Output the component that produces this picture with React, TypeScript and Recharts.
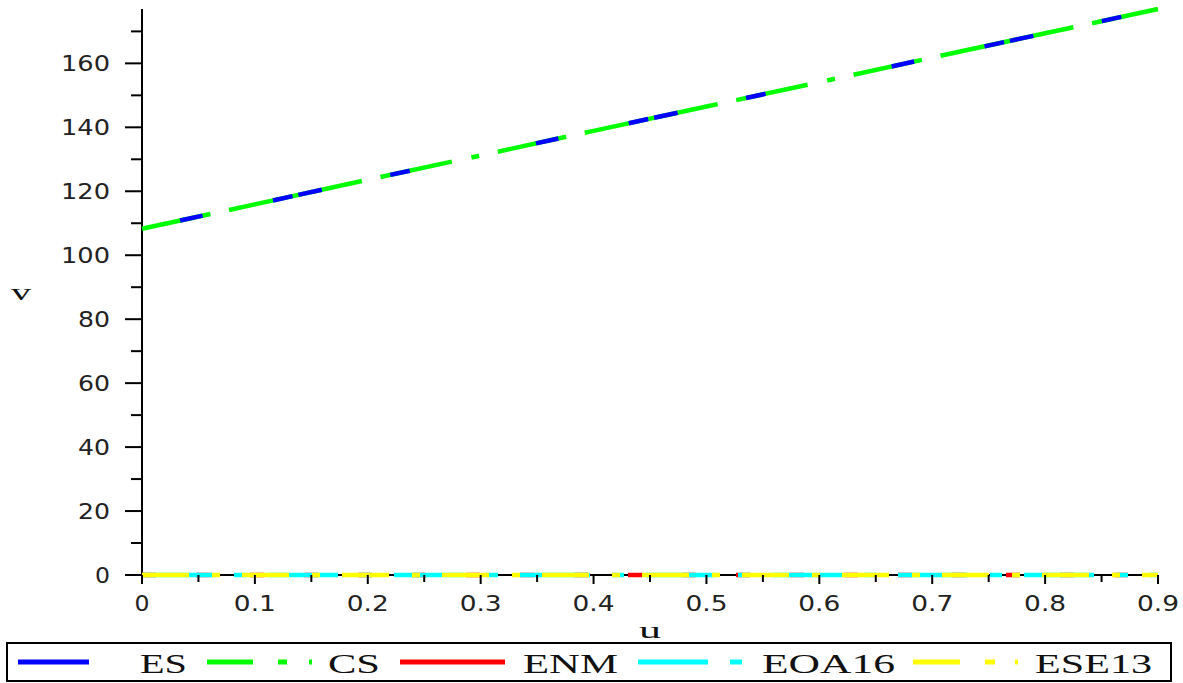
import React from 'react';
import { LineChart, Line, XAxis, YAxis, Legend, Label } from 'recharts';

const U = [0, 0.1, 0.2, 0.3, 0.4, 0.5, 0.6, 0.7, 0.8, 0.9];
const ES = [108.3, 115.9, 123.6, 131.2, 138.9, 146.5, 154.1, 161.8, 169.4, 177.0];
const CS = [108.3, 115.9, 123.6, 131.2, 138.9, 146.5, 154.1, 161.8, 169.4, 177.0];
const ENM = [0, 0, 0, 0, 0, 0, 0, 0, 0, 0];
const EOA16 = [0, 0, 0, 0, 0, 0, 0, 0, 0, 0];
const ESE13 = [0, 0, 0, 0, 0, 0, 0, 0, 0, 0];

const X_TICKS = [0, 0.05, 0.1, 0.15, 0.2, 0.25, 0.3, 0.35, 0.4, 0.45, 0.5, 0.55, 0.6, 0.65, 0.7, 0.75, 0.8, 0.85, 0.9];
const Y_TICKS = [0, 10, 20, 30, 40, 50, 60, 70, 80, 90, 100, 110, 120, 130, 140, 150, 160, 170];
const SERIES_NAMES = ['ES', 'CS', 'ENM', 'EOA16', 'ESE13'];

const data = U.map((u, i) => ({
  u,
  ES: ES[i],
  CS: CS[i],
  ENM: ENM[i],
  EOA16: EOA16[i],
  ESE13: ESE13[i],
}));

const labelLen = (s: string) => {
  let n = 0;
  for (const c of s) n += c === '.' ? 10 : 17;
  return n - 2;
};

const YTick = (props: any) => {
  const { x, y, payload } = props;
  const v = payload.value;
  const major = Math.round(v) % 20 === 0;
  const len = major ? 17 : 11;
  const s = String(v);
  return (
    <g>
      <line x1={x} x2={x - len} y1={y} y2={y} stroke="#000" strokeWidth={2} />
      {major && (
        <text
          x={x - 32}
          y={y + 7.8}
          textAnchor="end"
          fontFamily="DejaVu Sans"
          fontSize={21}
          fill="#222"
          textLength={labelLen(s)}
          lengthAdjust="spacingAndGlyphs"
        >
          {s}
        </text>
      )}
    </g>
  );
};

const XTick = (props: any) => {
  const { x, y, payload } = props;
  const v = payload.value;
  const major = Math.round(v * 100) % 10 === 0;
  const len = major ? 9 : 7;
  const s = String(Number(v.toFixed(2)));
  return (
    <g>
      <line x1={x} x2={x} y1={y} y2={y + len} stroke="#000" strokeWidth={2} />
      {major && (
        <text
          x={x}
          y={y + 36}
          textAnchor="middle"
          fontFamily="DejaVu Sans"
          fontSize={21}
          fill="#222"
          textLength={labelLen(s)}
          lengthAdjust="spacingAndGlyphs"
        >
          {s}
        </text>
      )}
    </g>
  );
};

const YLabel = (props: any) => {
  const vb = props.viewBox || { x: 0, y: 0, width: 0, height: 0 };
  return (
    <text
      x={vb.x + 21}
      y={vb.y + vb.height / 2 + 8}
      textAnchor="middle"
      fontFamily="Liberation Serif"
      fontSize={24}
      fill="#111"
      textLength={20}
      lengthAdjust="spacingAndGlyphs"
    >
      v
    </text>
  );
};

const XLabel = (props: any) => {
  const vb = props.viewBox || { x: 0, y: 0, width: 0, height: 0 };
  return (
    <text
      x={vb.x + vb.width / 2}
      y={vb.y + 63}
      textAnchor="middle"
      fontFamily="Liberation Serif"
      fontSize={24}
      fill="#111"
      textLength={22}
      lengthAdjust="spacingAndGlyphs"
    >
      u
    </text>
  );
};

const LegendBox = () => {
  const ty = 31;
  const ly = 20;
  const sw = 5;
  const txt = (x: number, len: number, s: string) => (
    <text
      x={x}
      y={ty}
      fontFamily="Liberation Serif"
      fontSize={28}
      fill="#111"
      textLength={len}
      lengthAdjust="spacingAndGlyphs"
    >
      {s}
    </text>
  );
  return (
    <div style={{ width: 1166, height: 40 }}>
      <svg width={1166} height={40} style={{ display: 'block' }}>
        <rect x={1} y={1} width={1164} height={38} fill="#fff" stroke="#000" strokeWidth={2} />
        <line x1={12} x2={83} y1={ly} y2={ly} stroke="#0000ff" strokeWidth={sw} />
        {txt(134, 47, SERIES_NAMES[0])}
        <line x1={201} x2={306} y1={ly} y2={ly} stroke="#00ff00" strokeWidth={sw} strokeDasharray="46 25 9 22 3 200" />
        {txt(322, 52, SERIES_NAMES[1])}
        <line x1={394} x2={499} y1={ly} y2={ly} stroke="#ff0000" strokeWidth={sw} />
        {txt(517, 95, SERIES_NAMES[2])}
        <line x1={632} x2={736} y1={ly} y2={ly} stroke="#00ffff" strokeWidth={sw} strokeDasharray="70 22 12 200" />
        {txt(756, 133, SERIES_NAMES[3])}
        <line x1={907} x2={1012} y1={ly} y2={ly} stroke="#ffff00" strokeWidth={sw} strokeDasharray="47 25 10 20 3 200" />
        {txt(1029, 117, SERIES_NAMES[4])}
      </svg>
    </div>
  );
};

export default function App() {
  return (
    <div style={{ position: 'absolute', left: 0, top: 0, width: 1183, height: 683, background: '#fff' }}>
      <LineChart width={1183} height={683} data={data} margin={{ top: 9, right: 25, bottom: 0, left: 0 }}>
        <XAxis
          dataKey="u"
          type="number"
          domain={[0, 0.9]}
          ticks={X_TICKS}
          interval={0}
          tickSize={0}
          tickMargin={0}
          tickLine={false}
          tick={<XTick />}
          axisLine={{ stroke: '#000', strokeWidth: 2 }}
          height={68}
        >
          <Label content={<XLabel />} />
        </XAxis>
        <YAxis
          type="number"
          domain={[0, 177]}
          ticks={Y_TICKS}
          interval={0}
          tickSize={0}
          tickMargin={0}
          tickLine={false}
          tick={<YTick />}
          axisLine={{ stroke: '#000', strokeWidth: 2 }}
          width={142}
        >
          <Label content={<YLabel />} />
        </YAxis>
        <Legend
          verticalAlign="bottom"
          content={() => <LegendBox />}
          wrapperStyle={{ left: 6, top: 642, bottom: 'auto', width: 1166, height: 40 }}
        />
        <Line zIndex={1000} dataKey="ENM" stroke="#ff0000" strokeWidth={4.5} dot={false} isAnimationActive={false} strokeDasharray="14 40" />
        <Line zIndex={1000} dataKey="EOA16" stroke="#00ffff" strokeWidth={4.5} dot={false} isAnimationActive={false} strokeDasharray="70 22 12 22" />
        <Line zIndex={1000} dataKey="ESE13" stroke="#ffff00" strokeWidth={4.5} dot={false} isAnimationActive={false} strokeDasharray="47 23 8 22" />
        <Line zIndex={1000} dataKey="CS" stroke="#00ff00" strokeWidth={4.5} dot={false} isAnimationActive={false} strokeDasharray="70 19 136 19 73 20 8 19" />
        <Line zIndex={1000} dataKey="ES" stroke="#0000ff" strokeWidth={4.5} dot={false} isAnimationActive={false} strokeDasharray="0 39 23 72 20 6 24 70 20 90" />
      </LineChart>
    </div>
  );
}
